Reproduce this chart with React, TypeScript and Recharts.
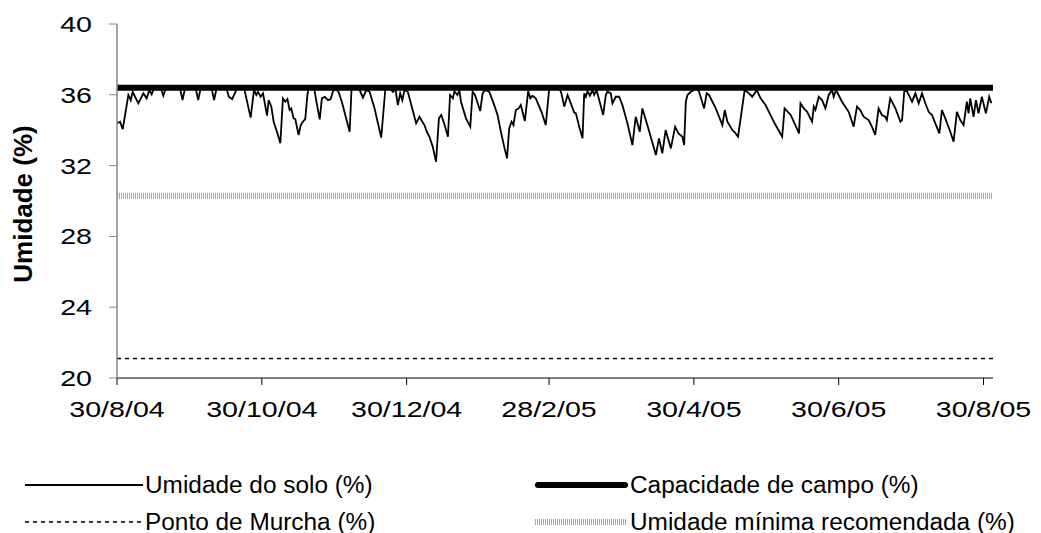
import * as React from 'react';
import { LineChart, Line, XAxis, YAxis, Legend } from 'recharts';

// dias contados a partir de 30/8/04 e umidade do solo
const dias = [
  0, 1.3, 2.4, 4.8, 5.8, 6.6, 7.6, 9.0, 11.1, 12.5, 13.6, 14.6, 15.6, 18.4, 19.5, 20.6,
  26.5, 27.6, 28.7, 33.1, 34.2, 35.3, 39.8, 40.9, 42.0,
  46.1, 47.1, 48.5, 49.6, 50.7, 53.5, 56.3, 57.7, 58.7, 59.4, 60.5, 61.5, 63.2, 63.9, 65.0,
  66.0, 67.8, 68.8, 69.9, 70.9, 71.8, 72.7, 73.4, 74.4, 75.1, 76.5, 77.4, 78.3, 79.3, 80.2,
  80.7, 83.0, 84.0, 85.4, 86.3, 87.5, 88.9, 90.0, 91.0, 92.1, 93.3, 94.7,
  98.0, 98.8, 101.5, 102.2, 103.6, 105.0, 106.4, 108.5, 111.3, 113.0, 114.8, 116.2, 117.3,
  118.3, 119.3, 120.2, 121.1, 122.5, 126.0, 127.4, 128.6, 129.5, 130.5, 131.6, 133.0, 134.4,
  135.6, 136.6, 138.0, 139.4, 140.3, 141.5,
  142.1, 143.4, 144.2, 144.9, 147.0, 147.7, 148.8, 149.8, 150.8, 153.0, 154.0, 155.0, 156.8,
  158.9, 160.3, 161.7, 163.1, 164.3, 165.2, 166.2, 167.0, 168.0, 169.2, 170.1, 171.8, 173.2,
  174.1, 175.0, 176.4, 178.8, 180.6, 182.0, 183.5, 186.3, 187.2, 188.4, 189.8,
  191.2, 192.6, 193.3, 194.7, 196.1, 196.8, 197.5, 198.2, 199.2, 200.3, 201.0, 202.0, 204.8,
  205.9, 206.6, 208.0, 208.7, 210.1, 211.5, 212.9, 215.0, 217.1, 218.5, 220.2, 221.3, 223.4,
  227.0, 228.3, 229.7, 231.1, 233.3, 235.1, 236.5, 238.2, 238.9,
  239.6, 240.3, 241.7, 243.1, 244.2, 245.2, 247.3, 248.4, 249.4, 252.2, 255.0, 256.0, 257.1,
  259.2, 260.2, 261.6, 264.4, 266.2, 267.6, 269.5, 271.1, 273.2, 274.6, 277.4, 280.2, 281.2,
  283.8, 287.3,
  287.9, 289.3, 290.7, 292.8, 293.5, 294.2, 295.6, 297.0, 298.4, 299.8, 301.2, 301.9, 302.9,
  305.4, 308.2, 310.3, 311.7, 313.1, 314.5, 316.6, 318.0, 319.4, 320.8, 322.2, 323.6, 324.3,
  325.7, 327.9, 330.0,
  330.7, 331.6, 332.5, 333.5, 334.9, 336.3, 337.7, 339.1, 340.5, 341.9, 343.3, 345.0, 346.4,
  347.5, 348.9, 351.0, 352.4, 353.8, 355.2, 356.6, 358.0, 358.7, 359.4, 360.8, 361.8, 362.9,
  364.3, 366.0, 367.4, 368.3,
];

const umidadeSolo = [
  34.39, 34.48, 34.05, 35.99, 35.7, 36.17, 35.89, 35.52, 36.08, 35.8, 36.27, 36.02, 36.36, 36.4, 35.95, 36.4,
  36.4, 35.7, 36.4, 36.4, 35.7, 36.4, 36.4, 35.7, 36.4,
  36.36, 35.89, 35.76, 36.08, 36.4, 36.4, 34.71, 36.27, 35.99, 36.17, 35.89, 36.08, 34.82, 35.7, 35.33,
  34.48, 33.73, 33.26, 35.8, 35.61, 35.76, 35.14, 35.23, 34.67, 34.63, 33.73, 34.29, 34.48, 34.63, 35.99,
  36.36, 36.4, 35.61, 34.61, 35.8, 35.89, 35.7, 35.76, 36.21, 36.32, 36.17, 35.61,
  33.91, 36.36, 36.4, 36.27, 35.84, 36.27, 36.17, 35.23, 33.58, 36.27, 36.4, 36.17, 36.32,
  35.42, 36.08, 35.7, 36.27, 36.17, 34.39, 34.76, 34.48, 34.29, 33.91, 33.63, 33.07, 32.22,
  34.67, 34.86, 34.29, 33.63, 35.99, 35.8,
  36.2, 35.99, 36.27, 35.61, 34.67, 34.48, 34.2, 36.17, 35.99, 35.08, 36.08, 36.27, 36.17,
  35.42, 34.86, 33.91, 33.07, 32.41, 34.1, 34.48, 34.29, 35.14, 35.23, 35.42, 34.52, 36.21,
  35.8, 35.95, 35.8, 35.04, 34.29, 36.27, 36.4, 36.4, 36.08, 35.33, 35.99,
  35.5, 35.0, 34.95, 34.2, 33.54, 36.08, 35.89, 36.21, 35.95, 36.27, 35.99, 36.27, 34.86,
  35.99, 36.17, 36.08, 35.52, 35.89, 35.89, 35.42, 34.39, 33.16, 34.76, 33.91, 35.23, 34.29,
  32.6, 33.54, 32.69, 34.01, 32.97, 34.2, 33.82, 33.63, 33.16,
  35.61, 35.99, 36.17, 36.27, 36.36, 36.17, 35.23, 36.08, 35.99, 35.23, 34.29, 35.14, 34.48,
  34.01, 33.88, 33.63, 36.27, 36.08, 35.89, 36.27, 35.8, 35.42, 35.04, 34.29, 33.63, 35.23,
  34.86, 33.82,
  35.52, 35.23, 35.04, 34.48, 35.33, 35.14, 35.89, 35.7, 35.23, 35.99, 36.27, 35.89, 36.27,
  35.61, 35.04, 34.2, 35.33, 35.14, 34.76, 34.57, 34.2, 33.73, 35.23, 34.86, 34.76, 34.57,
  35.8, 35.23, 34.48,
  34.57, 36.17, 36.27, 35.99, 35.61, 36.08, 35.52, 36.08, 35.52, 35.04, 34.86, 34.29, 33.82,
  35.14, 34.67, 33.91, 33.35, 35.04, 34.57, 34.29, 35.61, 34.95, 35.8, 34.76, 35.7, 34.95,
  35.89, 34.95, 35.89, 35.52,
];

// linhas de referência (valores constantes)
const diasLimite = [0, 369];
const capacidadeCampo = 36.4;
const pontoMurcha = 21.1;
const umidadeMinima = 30.3;

const ticksX = [0, 61, 122, 182, 243, 304, 365];
const rotulosX = ['30/8/04', '30/10/04', '30/12/04', '28/2/05', '30/4/05', '30/6/05', '30/8/05'];
const ticksY = [20, 24, 28, 32, 36, 40];

const dadosSolo = dias.map((dia, i) => ({ dia, umidade: umidadeSolo[i] }));
const constante = (valor: number) => diasLimite.map((dia) => ({ dia, umidade: valor }));

const FONTE = '"Liberation Sans", Arial, sans-serif';

const TickY = (props: any) => {
  const { x, y, payload } = props;
  return (
    <g transform={`translate(${x},${y})`}>
      <text transform="scale(1.3,1)" textAnchor="end" dy="0.36em" fontSize={22} fontFamily={FONTE} fill="#000">
        {payload.value}
      </text>
    </g>
  );
};

const TickX = (props: any) => {
  const { x, y, payload } = props;
  const idx = ticksX.indexOf(payload.value);
  return (
    <g transform={`translate(${x},${y})`}>
      <text transform="scale(1.3,1)" textAnchor="middle" dy="0.71em" fontSize={22} fontFamily={FONTE} fill="#000">
        {idx >= 0 ? rotulosX[idx] : payload.value}
      </text>
    </g>
  );
};

// título do eixo Y, posição fixa
const TituloY = () => (
  <text
    x={0}
    y={0}
    transform="translate(32,204) rotate(-90)"
    textAnchor="middle"
    fontSize={26}
    fontWeight="bold"
    fontFamily={FONTE}
    fill="#000"
  >
    Umidade (%)
  </text>
);

const Amostra = ({ tipo }: { tipo: string }) => {
  if (tipo === 'solo') return <line x1={0} y1={6} x2={118} y2={6} stroke="#000" strokeWidth={1.8} />;
  if (tipo === 'campo') return <line x1={3} y1={6} x2={90} y2={6} stroke="#000" strokeWidth={6} strokeLinecap="round" />;
  if (tipo === 'murcha') return <line x1={0} y1={6} x2={118} y2={6} stroke="#000" strokeWidth={1.5} strokeDasharray="4 4" />;
  return <line x1={0} y1={6} x2={92} y2={6} stroke="#a6a6a6" strokeWidth={6} strokeDasharray="1 1" />;
};

const itensLegenda = [
  { tipo: 'solo', nome: 'Umidade do solo (%)', sx: 25, tx: 145, cy: 20 },
  { tipo: 'campo', nome: 'Capacidade de campo (%)', sx: 535, tx: 630, cy: 20 },
  { tipo: 'murcha', nome: 'Ponto de Murcha (%)', sx: 25, tx: 145, cy: 57 },
  { tipo: 'minima', nome: 'Umidade mínima recomendada (%)', sx: 535, tx: 630, cy: 57 },
];

const Legenda = () => (
  <div style={{ position: 'relative', width: 1041, height: 70, fontFamily: FONTE }}>
    {itensLegenda.map((item) => (
      <React.Fragment key={item.nome}>
        <svg width={120} height={12} style={{ position: 'absolute', left: item.sx, top: item.cy - 6 }}>
          <Amostra tipo={item.tipo} />
        </svg>
        <span
          style={{
            position: 'absolute',
            left: item.tx,
            top: item.cy - 11,
            fontSize: 23,
            lineHeight: '23px',
            whiteSpace: 'nowrap',
            transform: 'scaleX(1.06)',
            transformOrigin: 'left center',
            color: '#000',
          }}
        >
          {item.nome}
        </span>
      </React.Fragment>
    ))}
  </div>
);

export default function App() {
  return (
    <div style={{ position: 'absolute', left: 0, top: 0, background: '#fff' }}>
      <LineChart width={1041} height={533} margin={{ top: 24, right: 48, bottom: 115, left: 0 }}>
        <XAxis
          dataKey="dia"
          type="number"
          domain={[0, 369]}
          ticks={ticksX}
          tick={<TickX />}
          tickSize={7}
          tickMargin={16}
          height={40}
          axisLine={{ stroke: '#000', strokeWidth: 1 }}
          tickLine={{ stroke: '#000' }}
          allowDataOverflow
        />
        <YAxis
          type="number"
          domain={[20, 40]}
          ticks={ticksY}
          tick={<TickY />}
          tickSize={8}
          tickMargin={17}
          width={117}
          axisLine={{ stroke: '#868686', strokeWidth: 1.5 }}
          tickLine={{ stroke: '#868686' }}
          label={() => <TituloY />}
        />
        <Legend verticalAlign="middle" align="center" layout="horizontal" content={<Legenda />} wrapperStyle={{ left: 0, top: 465, width: 1041 }} />
        <Line data={constante(pontoMurcha)} dataKey="umidade" name="Ponto de Murcha (%)" stroke="#000" strokeWidth={1.5} strokeDasharray="4 4" dot={false} isAnimationActive={false} />
        <Line data={constante(umidadeMinima)} dataKey="umidade" name="Umidade mínima recomendada (%)" stroke="#a6a6a6" strokeWidth={6} strokeDasharray="1 1" dot={false} isAnimationActive={false} />
        <Line data={dadosSolo} dataKey="umidade" name="Umidade do solo (%)" type="linear" stroke="#000" strokeWidth={1.8} dot={false} isAnimationActive={false} />
        <Line data={constante(capacidadeCampo)} dataKey="umidade" name="Capacidade de campo (%)" stroke="#000" strokeWidth={6} strokeLinecap="round" dot={false} isAnimationActive={false} />
      </LineChart>
    </div>
  );
}
